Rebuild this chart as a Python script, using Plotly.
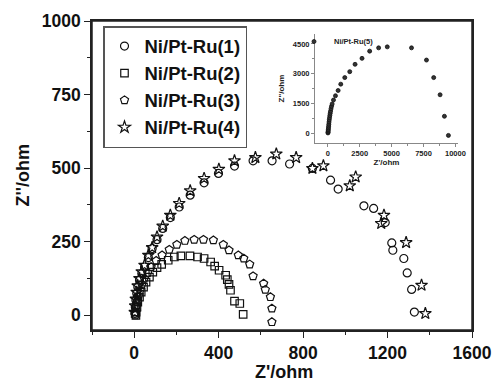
import plotly.graph_objects as go

# ---------------- data ----------------
s1_name = "Ni/Pt-Ru(1)"
s1_x = [3, 5, 8, 12, 17, 25, 36, 49, 67, 85, 108, 135, 171, 213, 265, 331, 399, 475, 563, 653, 736,
        844, 930, 966, 1088, 1134, 1189, 1220, 1225, 1277, 1293, 1314, 1327]
s1_y = [6, 28, 51, 74, 96, 119, 142, 164, 196, 227, 257, 295, 332, 368, 408, 450, 482, 507, 525, 525, 514,
        499, 459, 429, 372, 363, 315, 246, 221, 193, 144, 88, 11]

s2_name = "Ni/Pt-Ru(2)"
s2_x = [8, 9, 13, 17, 25, 33, 44, 56, 72, 88, 108, 130, 161, 190, 221, 264, 300, 331, 362, 381, 402,
        433, 441, 449, 456, 475, 500, 516]
s2_y = [0, 11, 28, 45, 62, 79, 96, 113, 130, 147, 162, 173, 187, 198, 202, 202, 198, 193, 181, 167, 153,
        136, 121, 105, 85, 48, 40, 3]

s3_name = "Ni/Pt-Ru(3)"
s3_x = [5, 6, 9, 14, 20, 28, 36, 48, 64, 80, 104, 132, 166, 202, 240, 284, 328, 375, 422, 449, 493,
        519, 547, 563, 613, 621, 645, 652, 652]
s3_y = [0, 11, 28, 45, 65, 85, 105, 125, 144, 164, 185, 204, 223, 240, 253, 257, 257, 255, 240, 221, 204,
        193, 173, 133, 108, 87, 62, 23, -23]

s4_name = "Ni/Pt-Ru(4)"
s4_x = [3, 5, 8, 12, 17, 25, 36, 49, 67, 85, 108, 135, 171, 213, 265, 331, 401, 475, 574, 673, 767,
        844, 896, 1049, 1021, 1183, 1170, 1288, 1361, 1379]
s4_y = [10, 32, 55, 78, 100, 125, 148, 170, 204, 230, 266, 303, 340, 380, 423, 465, 496, 525, 536, 548, 536,
        499, 508, 470, 440, 340, 312, 247, 102, 6]

s5_name = "Ni/Pt-Ru(5)"
s5_x = [10, 20, 30, 40, 50, 65, 80, 95, 115, 135, 160, 185, 215, 250, 290, 340, 445, 600, 807, 1016,
        1330, 1720, 2135, 2680, 3280, 3984, 4660, 6560, 7734, 8300, 8800, 9140, 9453]
s5_y = [10, 50, 110, 180, 260, 350, 450, 560, 670, 780, 890, 1000, 1110, 1230, 1350, 1470, 1670, 1885,
        2150, 2470, 2800, 3100, 3470, 3770, 4135, 4300, 4350, 4300, 3685, 2800, 1935, 850, -115]

main_xticks = [0, 400, 800, 1200, 1600]
main_yticks = [0, 250, 500, 750, 1000]
inset_xticks = [0, 2500, 5000, 7500, 10000]
inset_yticks = [0, 1500, 3000, 4500]

# ---------------- figure ----------------
FONT = "Arial, Liberation Sans, sans-serif"
W, H = 495, 385
ML, MR, MT, MB = 92, 23, 21, 55
PW, PH = W - ML - MR, H - MT - MB
fig = go.Figure()

main_series = [
    (s1_name, s1_x, s1_y, "circle-open", 8),
    (s2_name, s2_x, s2_y, "square-open", 7.5),
    (s3_name, s3_x, s3_y, "pentagon-open", 8.5),
    (s4_name, s4_x, s4_y, "star-open", 9),
]
for name, xs, ys, sym, sz in main_series:
    fig.add_trace(go.Scatter(
        x=xs, y=ys, name=name, mode="markers",
        marker=dict(symbol=sym, size=sz, color="#111", line=dict(width=1.2, color="#111")),
        xaxis="x", yaxis="y", legend="legend",
    ))

fig.add_trace(go.Scatter(
    x=s5_x, y=s5_y, name=s5_name, mode="markers",
    marker=dict(symbol="circle", size=4, color="#333", line=dict(width=0.8, color="#111")),
    xaxis="x2", yaxis="y2", legend="legend2",
))

axis_common = dict(
    showline=True, linecolor="#222", linewidth=1.5, mirror=True,
    ticks="outside", ticklen=6, tickwidth=1.3, tickcolor="#222",
    showgrid=False, zeroline=False, automargin=False,
    tickfont=dict(family=FONT, size=17.5, color="#111", weight="bold"),
)

inset_common = dict(
    showline=True, linecolor="#888", linewidth=1, mirror=False,
    ticks="outside", ticklen=3, tickwidth=1, tickcolor="#888",
    showgrid=False, zeroline=False, automargin=False,
    tickfont=dict(family=FONT, size=7.5, color="#222", weight="bold"),
)

fig.update_layout(
    width=W, height=H,
    margin=dict(l=ML, r=MR, t=MT, b=MB),
    paper_bgcolor="white", plot_bgcolor="white",
    showlegend=True,
    xaxis=dict(
        range=[-200, 1600], tickvals=main_xticks, ticktext=[str(v) for v in main_xticks],
        minor=dict(dtick=200, ticks="outside", ticklen=3, tickcolor="#222", tickwidth=1.2),
        **axis_common,
    ),
    yaxis=dict(
        range=[-50, 1000], tickvals=main_yticks, ticktext=[str(v) for v in main_yticks],
        minor=dict(dtick=125, tick0=0, ticks="outside", ticklen=3, tickcolor="#222", tickwidth=1.2),
        **axis_common,
    ),
    xaxis2=dict(
        domain=[0.587, 0.963], anchor="y2", range=[-1000, 10200],
        tickvals=inset_xticks, ticktext=[str(v) for v in inset_xticks],
        minor=dict(dtick=1250, tick0=0, ticks="outside", ticklen=2, tickcolor="#888"),
        title=dict(text="Z'/ohm", font=dict(family=FONT, size=8, color="#222", weight="bold"), standoff=2),
        **inset_common,
    ),
    yaxis2=dict(
        domain=[0.605, 0.958], anchor="x2", range=[-500, 5000],
        tickvals=inset_yticks, ticktext=[str(v) for v in inset_yticks],
        minor=dict(dtick=750, tick0=0, ticks="outside", ticklen=2, tickcolor="#888"),
        title=dict(text="Z''/ohm", font=dict(family=FONT, size=8, color="#222", weight="bold"), standoff=7),
        **inset_common,
    ),
    legend=dict(
        x=(103 - ML) / PW, y=(H - MB - 26) / PH, xanchor="left", yanchor="top",
        bordercolor="#555", borderwidth=1.5, bgcolor="white",
        font=dict(family=FONT, size=18.5, color="#111", weight="bold"),
        itemwidth=30, tracegroupgap=0,
    ),
    legend2=dict(
        x=(294 - ML) / PW, y=(H - MB - 27) / PH, xanchor="left", yanchor="top",
        bgcolor="rgba(0,0,0,0)", borderwidth=0,
        font=dict(family=FONT, size=7.5, color="#222", weight="bold"),
        itemwidth=30,
    ),
    annotations=[
        dict(text="Z'/ohm", xref="paper", yref="paper", x=(284 - ML) / PW, y=-(372 - (H - MB)) / PH,
             xanchor="center", yanchor="middle", showarrow=False,
             font=dict(family=FONT, size=18, color="#111", weight="bold")),
        dict(text="Z''/ohm", xref="paper", yref="paper", x=-(ML - 22) / PW, y=0.5,
             xanchor="center", yanchor="middle", showarrow=False, textangle=-90,
             font=dict(family=FONT, size=18, color="#111", weight="bold")),
    ],
    shapes=[
        dict(type="rect", xref="x domain", yref="y domain", x0=0, x1=1, y0=0, y1=1,
             line=dict(color="#222", width=1.5), layer="above"),
    ],
)

fig.write_html(
    "out.html",
    config={"displayModeBar": False},
    post_script="document.body.style.margin='0';document.body.style.overflow='hidden';",
)
